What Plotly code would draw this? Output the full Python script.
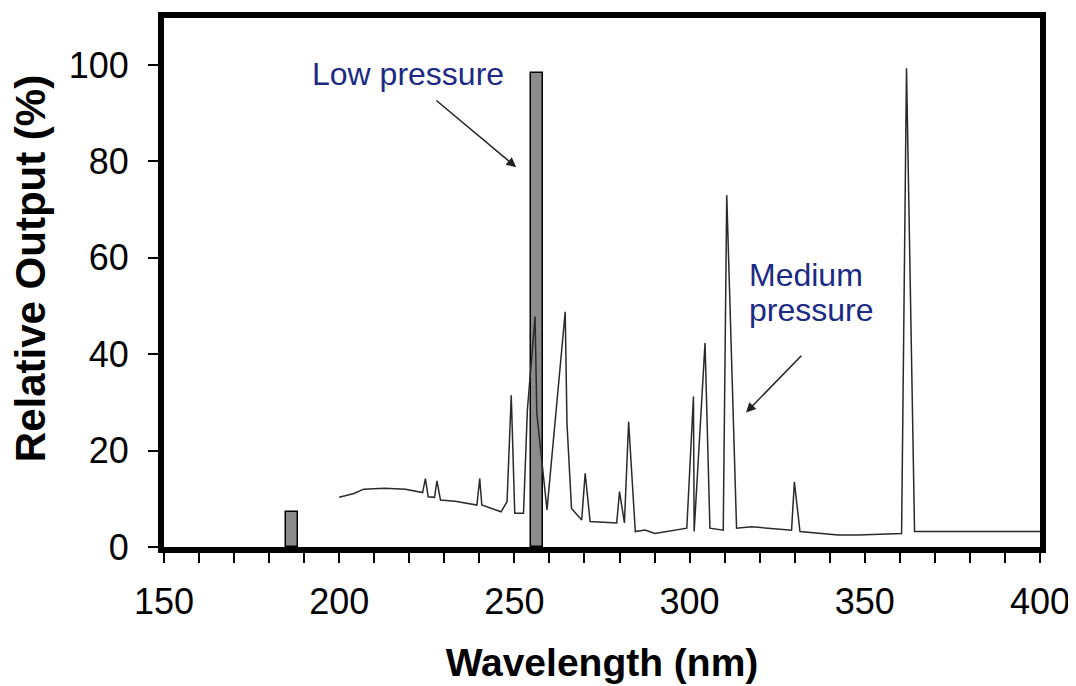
import plotly.graph_objects as go

# Medium-pressure lamp spectrum (wavelength nm, relative output %)
mp_wavelength = [200, 204.2, 207, 213, 218.9, 223.8, 224.6, 225.4, 227.2, 227.9, 228.9,
                 233.1, 239.3, 240.1, 240.7, 246.2, 247.9, 249.1, 250.1, 252.6, 253.7,
                 255.9, 256.4, 259.3, 264.5, 265.0, 266.3, 269.2, 270.2, 271.6, 279.2,
                 280.0, 281.4, 282.6, 284.5, 287.3, 290.1, 299.2, 301.1, 301.3, 304.4,
                 305.8, 309.6, 310.6, 313.4, 317.7, 329.1, 329.9, 331.5, 342.4, 348.1,
                 360.5, 361.9, 364.2, 400]
mp_output = [10.3, 11.1, 12.0, 12.2, 12.0, 11.3, 14.2, 10.4, 10.3, 13.7, 9.75,
             9.5, 8.7, 14.2, 8.7, 7.3, 9.4, 31.5, 7.0, 7.0, 28.4,
             47.8, 27.7, 7.7, 48.8, 25.7, 8.0, 5.6, 15.3, 5.3, 5.0,
             11.5, 5.0, 26.0, 3.2, 3.5, 2.8, 3.9, 31.2, 3.2, 42.3,
             3.9, 3.5, 73.0, 3.9, 4.2, 3.5, 13.5, 3.2, 2.5, 2.5,
             2.8, 99.3, 3.2, 3.2]

# Low-pressure lamp lines
lp_wavelength = [186.6, 256.4]
lp_output = [7.3, 98.3]

x_ticks = [150, 200, 250, 300, 350, 400]
y_ticks = [0, 20, 40, 60, 80, 100]

FONT = "Liberation Sans, Arial, sans-serif"
NAVY = "#1c2a84"

fig = go.Figure()
fig.add_trace(go.Bar(
    x=lp_wavelength, y=lp_output, width=3.3,
    marker=dict(color="#8c8c8c", line=dict(color="black", width=1.5)),
    showlegend=False, hoverinfo="x+y"))
fig.add_trace(go.Scatter(
    x=mp_wavelength, y=mp_output, mode="lines",
    line=dict(color="#2a2a2a", width=1.5), showlegend=False))

fig.update_layout(
    width=1068, height=678,
    margin=dict(l=156, r=36, t=10, b=139),
    paper_bgcolor="white", plot_bgcolor="white",
    font=dict(family=FONT, size=36, color="black"),
    xaxis=dict(
        range=[150, 400], tickvals=x_ticks, ticks="outside", ticklen=10, tickwidth=2,
        tickcolor="black", showline=True, mirror=True, linewidth=6, linecolor="black",
        showgrid=False, zeroline=False, automargin=False, ticklabelstandoff=8,
        minor=dict(dtick=10, tick0=150, ticks="outside", ticklen=10, tickwidth=2,
                   tickcolor="black", showgrid=False),
        tickfont=dict(family=FONT, size=36),
        title=dict(text="<b>Wavelength (nm)</b>", font=dict(family=FONT, size=39),
                   standoff=29)),
    yaxis=dict(
        range=[0, 109.75], tickvals=y_ticks, ticks="outside", ticklen=10, tickwidth=2,
        tickcolor="black", showline=True, mirror=True, linewidth=6, linecolor="black",
        showgrid=False, zeroline=False, automargin=False, ticklabelstandoff=12,
        tickfont=dict(family=FONT, size=36)),
    bargap=0,
)

# y-axis title (placed as rotated text to match the original's vertical offset)
fig.add_annotation(x=-0.153, y=0.527, xref="paper", yref="paper",
                   text="<b>Relative Output (%)</b>", textangle=-90, showarrow=False,
                   xanchor="center", yanchor="middle",
                   font=dict(family=FONT, size=42, color="black"))

fig.add_annotation(x=191.7, y=98.2, xref="x", yref="y", text="Low pressure",
                   showarrow=False, xanchor="left", yanchor="middle",
                   font=dict(family=FONT, size=32, color=NAVY))
fig.add_annotation(x=250.5, y=78.8, ax=227.3, ay=92.9, xref="x", yref="y",
                   axref="x", ayref="y", text="", showarrow=True,
                   arrowhead=2, arrowsize=1.3, arrowwidth=1.5, arrowcolor="#222222")
fig.add_annotation(x=316.3, y=56.4, xref="x", yref="y", text="Medium",
                   showarrow=False, xanchor="left", yanchor="middle",
                   font=dict(family=FONT, size=32, color=NAVY))
fig.add_annotation(x=316.3, y=49.2, xref="x", yref="y", text="pressure",
                   showarrow=False, xanchor="left", yanchor="middle",
                   font=dict(family=FONT, size=32, color=NAVY))
fig.add_annotation(x=316.1, y=27.9, ax=332.3, ay=40.0, xref="x", yref="y",
                   axref="x", ayref="y", text="", showarrow=True,
                   arrowhead=2, arrowsize=1.3, arrowwidth=1.5, arrowcolor="#222222")

fig.write_html("out.html")
